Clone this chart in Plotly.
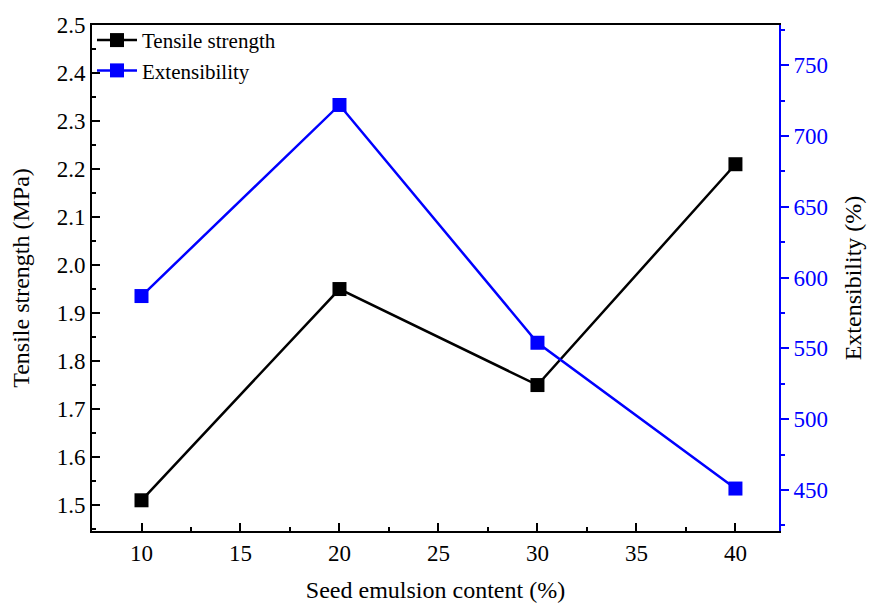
import plotly.graph_objects as go

content = [10, 20, 30, 40]
tensile = [1.51, 1.95, 1.75, 2.21]
extens = [587, 722, 554, 451]

FONT = "Liberation Serif"

fig = go.Figure()
fig.add_trace(go.Scatter(x=content, y=tensile, name="Tensile strength", mode="lines+markers",
                         line=dict(color="black", width=2.5),
                         marker=dict(symbol="square", size=14, color="black")))
fig.add_trace(go.Scatter(x=content, y=extens, name="Extensibility", mode="lines+markers",
                         yaxis="y2",
                         line=dict(color="#0000ff", width=2.5),
                         marker=dict(symbol="square", size=14, color="#0000ff")))

# page body has an 8px margin, so the figure is offset by (8, 8)
fig.update_layout(
    width=867, height=595,
    margin=dict(l=84, r=96, t=15, b=72),
    paper_bgcolor="white", plot_bgcolor="white",
    font=dict(family=FONT, size=20, color="black"),
    showlegend=True,
    legend=dict(x=0.0, y=1.01, xanchor="left", yanchor="top", bgcolor="rgba(0,0,0,0)",
                font=dict(family=FONT, size=21), tracegroupgap=0, itemwidth=40),
    xaxis=dict(range=[7.5, 42.2], dtick=5, tick0=10, showgrid=False, zeroline=False,
               automargin=False,
               showline=True, linecolor="black", linewidth=2, mirror=True,
               ticks="inside", ticklen=8, tickwidth=1.5, tickcolor="black",
               minor=dict(dtick=2.5, ticks="inside", ticklen=4, tickwidth=1.5, tickcolor="black"),
               title=dict(text="Seed emulsion content (%)", standoff=19),
               tickfont=dict(size=23)),
    yaxis=dict(range=[1.446, 2.5], dtick=0.1, tick0=1.5, tickformat=".1f", showgrid=False, zeroline=False,
               automargin=False,
               showline=True, linecolor="black", linewidth=2,
               ticks="inside", ticklen=8, tickwidth=1.5, tickcolor="black",
               minor=dict(dtick=0.05, ticks="inside", ticklen=4, tickwidth=1.5, tickcolor="black"),
               title=dict(text="Tensile strength (MPa)", standoff=24, font=dict(color="black")),
               tickfont=dict(size=23, color="black")),
    yaxis2=dict(range=[421, 778.5], dtick=50, tick0=450, overlaying="y", side="right",
                showgrid=False, zeroline=False, automargin=False,
                showline=True, linecolor="#0000ff", linewidth=2,
                ticks="outside", ticklen=8, tickwidth=1.5, tickcolor="#0000ff",
                minor=dict(dtick=25, ticks="outside", ticklen=4, tickwidth=1.5, tickcolor="#0000ff"),
                tickfont=dict(size=23, color="#0000ff"),
                title=dict(text="Extensibility (%)", standoff=17, font=dict(color="black"))),
)

fig.write_html("out.html")
